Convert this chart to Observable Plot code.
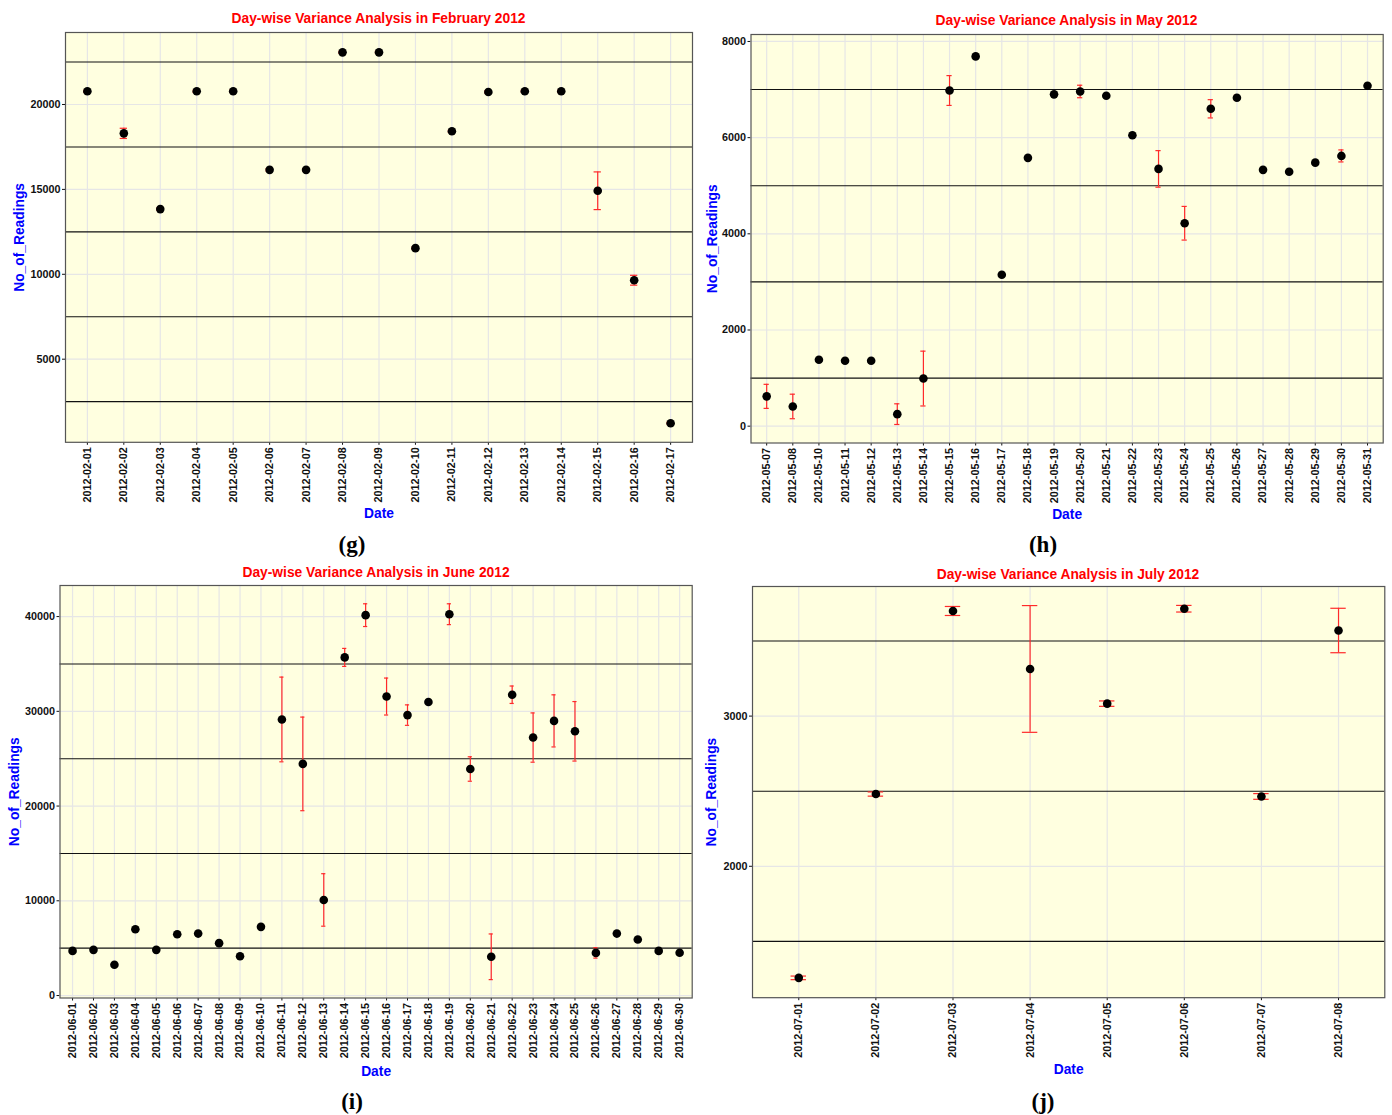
<!DOCTYPE html>
<html>
<head>
<meta charset="utf-8">
<script src="https://cdn.jsdelivr.net/npm/d3@7"></script>
<script src="https://cdn.jsdelivr.net/npm/@observablehq/plot@0.6"></script>
<style>
  html, body { margin: 0; padding: 0; background: #fff; }
  body { width: 1392px; height: 1115px; position: relative; overflow: hidden; font-family: "Liberation Sans", Arial, sans-serif; }
  .panel { position: absolute; }
  .panel svg { display: block; overflow: visible; }
  .title { position: absolute; color: #ff0000; font-weight: bold; font-size: 13.8px; white-space: nowrap; transform: translate(-50%, -50%); }
  .cap { position: absolute; font-family: "Liberation Serif", "DejaVu Serif", serif; font-weight: bold; font-size: 23px; transform: translate(-50%, -50%); }
</style>
</head>
<body>
<div id="root"></div>
<script>
// ---------- DATA ----------
// February 2012
const febDates = ["2012-02-01","2012-02-02","2012-02-03","2012-02-04","2012-02-05","2012-02-06","2012-02-07","2012-02-08","2012-02-09","2012-02-10","2012-02-11","2012-02-12","2012-02-13","2012-02-14","2012-02-15","2012-02-16","2012-02-17"];
const febMean  = [20780, 18300, 13840, 20780, 20780, 16150, 16150, 23070, 23070, 11540, 18420, 20740, 20780, 20780, 14920, 9650, 1230];
const febErr   = [60, 300, 60, 60, 60, 60, 60, 60, 60, 60, 60, 60, 60, 60, 1110, 290, 50];
const febMajor = [5000, 10000, 15000, 20000];
const febMinor = [2500, 7500, 12500, 17500, 22500];

// May 2012
const mayDates = ["2012-05-07","2012-05-08","2012-05-10","2012-05-11","2012-05-12","2012-05-13","2012-05-14","2012-05-15","2012-05-16","2012-05-17","2012-05-18","2012-05-19","2012-05-20","2012-05-21","2012-05-22","2012-05-23","2012-05-24","2012-05-25","2012-05-26","2012-05-27","2012-05-28","2012-05-29","2012-05-30","2012-05-31"];
const mayMean  = [620, 410, 1380, 1360, 1360, 250, 990, 6980, 7690, 3150, 5580, 6900, 6960, 6870, 6050, 5350, 4220, 6600, 6830, 5330, 5290, 5480, 5620, 7080];
const mayErr   = [250, 255, 20, 20, 20, 215, 570, 310, 15, 15, 20, 20, 130, 20, 40, 380, 350, 190, 50, 20, 15, 20, 125, 30];
const mayMajor = [0, 2000, 4000, 6000, 8000];
const mayMinor = [1000, 3000, 5000, 7000];

// June 2012
const junDates = ["2012-06-01","2012-06-02","2012-06-03","2012-06-04","2012-06-05","2012-06-06","2012-06-07","2012-06-08","2012-06-09","2012-06-10","2012-06-11","2012-06-12","2012-06-13","2012-06-14","2012-06-15","2012-06-16","2012-06-17","2012-06-18","2012-06-19","2012-06-20","2012-06-21","2012-06-22","2012-06-23","2012-06-24","2012-06-25","2012-06-26","2012-06-27","2012-06-28","2012-06-29","2012-06-30"];
const junMean  = [4710, 4820, 3250, 6990, 4820, 6470, 6540, 5530, 4150, 7250, 29140, 24450, 10090, 35690, 40150, 31560, 29600, 30990, 40250, 23910, 4090, 31750, 27230, 28990, 27890, 4500, 6540, 5910, 4710, 4520];
const junErr   = [100, 100, 100, 100, 100, 100, 100, 100, 100, 100, 4470, 4940, 2770, 950, 1200, 1950, 1080, 150, 1100, 1290, 2410, 920, 2600, 2750, 3140, 550, 100, 200, 100, 100];
const junMajor = [0, 10000, 20000, 30000, 40000];
const junMinor = [5000, 15000, 25000, 35000];

// July 2012
const julDates = ["2012-07-01","2012-07-02","2012-07-03","2012-07-04","2012-07-05","2012-07-06","2012-07-07","2012-07-08"];
const julMean  = [1257, 2481, 3700, 3314, 3083, 3715, 2465, 3570];
const julErr   = [12, 14, 30, 422, 18, 22, 19, 148];
const julMajor = [2000, 3000];
const julMinor = [1500, 2500, 3500];

// ---------- LAYOUT ----------
const panels = [
  {title: "Day-wise Variance Analysis in February 2012", cap: "(g)", dates: febDates, mean: febMean, err: febErr, major: febMajor, minor: febMinor,
   domain: [106, 24240], L: 65, R: 692, T: 31.5, B: 441.3, left: 0, dateY: 513, ylabX: 19, titleX: 378.5, titleY: 18, capX: 352, capY: 545},
  {title: "Day-wise Variance Analysis in May 2012", cap: "(h)", dates: mayDates, mean: mayMean, err: mayErr, major: mayMajor, minor: mayMinor,
   domain: [-350, 8145], L: 750.5, R: 1382.7, T: 33.5, B: 442, left: 696, dateY: 514, ylabX: 712, titleX: 1066.5, titleY: 20, capX: 1043, capY: 545},
  {title: "Day-wise Variance Analysis in June 2012", cap: "(i)", dates: junDates, mean: junMean, err: junErr, major: junMajor, minor: junMinor,
   domain: [-260, 43280], L: 59.5, R: 691.7, T: 585, B: 997.5, left: 0, dateY: 1071, ylabX: 14, titleX: 376, titleY: 572, capX: 352, capY: 1102},
  {title: "Day-wise Variance Analysis in July 2012", cap: "(j)", dates: julDates, mean: julMean, err: julErr, major: julMajor, minor: julMinor,
   domain: [1125, 3863], L: 752, R: 1384.3, T: 586.3, B: 997.5, left: 696, dateY: 1069, ylabX: 711, titleX: 1068, titleY: 574, capX: 1043, capY: 1102}
];

const root = document.getElementById("root");
const W = 696, MT = 6, MB = 86;

for (const p of panels) {
  const rows = p.dates.map((d, i) => ({date: d, mean: p.mean[i], lo: p.mean[i] - p.err[i], hi: p.mean[i] + p.err[i]}));
  const height = (p.B - p.T) + MT + MB;
  const svg = Plot.plot({
    width: W,
    height,
    marginLeft: p.L - p.left,
    marginRight: p.left + W - p.R,
    marginTop: MT,
    marginBottom: MB,
    style: {fontFamily: "'Liberation Sans', Arial, sans-serif", fontSize: "10.8px", fontWeight: "bold", color: "#111", background: "transparent", overflow: "visible"},
    x: {type: "band", domain: p.dates, paddingInner: 0.8, paddingOuter: 0.5, align: 0.5, round: false, label: null, tickRotate: -90, tickSize: 3, tickPadding: 2},
    y: {domain: p.domain, ticks: p.major, tickFormat: d => String(d), label: null, tickSize: 3, tickPadding: 2},
    marks: [
      Plot.frame({fill: "#FFFFE0"}),
      Plot.ruleY(p.major, {stroke: "#E6E6E6", strokeWidth: 1.2}),
      Plot.ruleX(p.dates, {stroke: "#E6E6E6", strokeWidth: 1.2}),
      Plot.ruleY(p.minor, {stroke: "#111", strokeWidth: 1.1}),
      Plot.ruleX(rows, {x: "date", y1: "lo", y2: "hi", stroke: "#ff2a2a", strokeWidth: 1.2}),
      Plot.tickY(rows, {x: "date", y: "lo", stroke: "#ff2a2a", strokeWidth: 1.2}),
      Plot.tickY(rows, {x: "date", y: "hi", stroke: "#ff2a2a", strokeWidth: 1.2}),
      Plot.dot(rows, {x: "date", y: "mean", r: 4.3, fill: "#000", stroke: "none"}),
      Plot.frame({stroke: "#555", strokeWidth: 1.2}),
      Plot.text(["Date"], {frameAnchor: "bottom", dy: p.dateY - p.B, textAnchor: "middle", lineAnchor: "middle", fill: "#0000ff", fontSize: 13.8, fontWeight: "bold"}),
      Plot.text(["No_of_Readings"], {frameAnchor: "left", dx: p.ylabX - p.L, rotate: -90, textAnchor: "middle", lineAnchor: "middle", fill: "#0000ff", fontSize: 13.8, fontWeight: "bold"})
    ]
  });
  const wrap = document.createElement("div");
  wrap.className = "panel";
  wrap.style.left = p.left + "px";
  wrap.style.top = (p.T - MT) + "px";
  wrap.style.width = W + "px";
  wrap.appendChild(svg);
  root.appendChild(wrap);

  const t = document.createElement("div");
  t.className = "title";
  t.textContent = p.title;
  t.style.left = p.titleX + "px";
  t.style.top = p.titleY + "px";
  root.appendChild(t);

  const c = document.createElement("div");
  c.className = "cap";
  c.textContent = p.cap;
  c.style.left = p.capX + "px";
  c.style.top = p.capY + "px";
  root.appendChild(c);
}
</script>
</body>
</html>
